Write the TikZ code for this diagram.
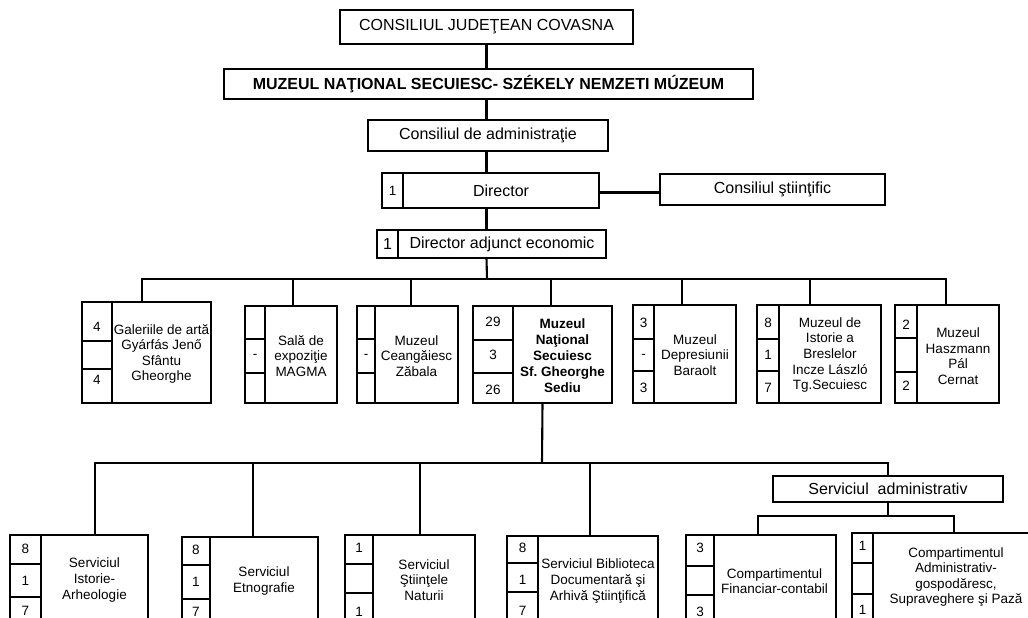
\documentclass[tikz,border=0pt]{standalone}
\usepackage{fontspec}
\setmainfont{Liberation Sans}
\tikzset{
  ln/.style={line width=2.3pt},
  conn/.style={line width=2.1pt},
  boxnode/.style={draw, line width=2.3pt, rectangle, outer sep=0pt, inner sep=0pt},
  big/.style={font=\fontsize{16}{19}\selectfont},
  txt/.style={align=center, inner sep=0pt, font=\fontsize{13.5}{15.6}\selectfont},
  num/.style={inner sep=0pt, font=\fontsize{13.5}{15.6}\selectfont},
}
% box: name, x1, y1, x2, y2
\newcommand{\mkbox}[5]{%
  \node[boxnode, anchor=north west, minimum width={#4pt-#2pt}, minimum height={#5pt-#3pt}] (#1) at (#2,#3) {};}
% text box: name, x1, y1, x2, y2, text
\newcommand{\tbox}[6]{%
  \node[boxnode, big, minimum width={#4pt-#2pt}, minimum height={#5pt-#3pt}] (#1) at ({(#2+#4)/2},{(#3+#5)/2}) {#6};}
% cells: x1, x2, y1, d1, d2, y2
\newcommand{\cells}[6]{%
  \draw[ln] (#2,#3) -- (#2,#6) (#1,#4) -- (#2,#4) (#1,#5) -- (#2,#5);}
\begin{document}
\begin{tikzpicture}[x=1pt,y=-1pt]
\useasboundingbox (0,0) rectangle (1028,618);
\clip (0,0) rectangle (1028,618);
\fill[white] (0,0) rectangle (1028,618);

% ---------- top hierarchy ----------
\tbox{cj}{340}{10}{633}{44}{CONSILIUL JUDEŢEAN COVASNA}
\tbox{mns}{224}{69}{753}{99}{\textbf{MUZEUL NAŢIONAL SECUIESC- SZÉKELY NEMZETI MÚZEUM}}
\tbox{ca}{368}{120}{608}{151}{Consiliul de administraţie}

\mkbox{dir}{382}{173}{599}{208}
\draw[ln] (403,173) -- (403,208);
\node[num] (dirn) at (392.5,190.5) {1};
\node[big, inner sep=0pt] (dirt) at (501,190.5) {Director};

\tbox{cs}{660}{174}{885}{205}{Consiliul ştiinţific}

\mkbox{adj}{377}{230}{606}{258}
\draw[ln] (398,230) -- (398,258);
\node[big, inner sep=0pt] (adjn) at (387.5,244) {1};
\node[big, inner sep=0pt] (adjt) at (502,244) {Director adjunct economic};

\draw[conn] (cj.south) -- (cj.south |- mns.north);
\draw[conn] (cj.south |- mns.south) -- (cj.south |- ca.north);
\draw[conn] (cj.south |- ca.south) -- (cj.south |- dir.north);
\draw[conn] (cj.south |- dir.south) -- (cj.south |- adj.north);
\draw[conn] ([yshift=-2pt]dir.east) -- ([yshift=-2pt]dir.east -| cs.west);

\coordinate (bus) at (487,279);
\draw[conn] (cj.south |- adj.south) -- (bus);

% ---------- museums ----------
\mkbox{gal}{82}{302}{211}{403}
\cells{82}{112}{302}{341}{369}{403}
\node[num] at (97,327) {4};
\node[num] at (97,380) {4};
\node[txt] (galt) at (161.5,354) {Galeriile de artă\\Gyárfás Jenő\\Sfântu\\Gheorghe};

\mkbox{sala}{245}{306}{337}{403}
\cells{245}{265}{306}{339}{373}{403}
\node[num] at (255,356) {-};
\node[txt] (salat) at (301,356) {Sală de\\expoziţie\\MAGMA};

\mkbox{cea}{357}{306}{458}{403}
\cells{357}{375}{306}{339}{373}{403}
\node[num] at (366,356) {-};
\node[txt] (ceat) at (416.5,356) {Muzeul\\Ceangăiesc\\Zăbala};

\mkbox{nat}{473}{306}{612}{403}
\cells{473}{513}{306}{340}{373}{403}
\node[num] at (493,322) {29};
\node[num] at (493,355) {3};
\node[num] at (493,390) {26};
\node[txt, font=\fontsize{13.5}{16}\selectfont\bfseries] (natt) at (562.5,356) {Muzeul\\Naţional\\Secuiesc\\Sf.\ Gheorghe\\Sediu};

\mkbox{dep}{633}{305}{736}{403}
\cells{633}{654}{305}{339}{371}{403}
\node[num] at (643.5,323) {3};
\node[num] at (643.5,356) {-};
\node[num] at (643.5,388) {3};
\node[txt] (dept) at (695,355) {Muzeul\\Depresiunii\\Baraolt};

\mkbox{bre}{757}{305}{881}{403}
\cells{757}{779}{305}{339}{371}{403}
\node[num] at (768,323) {8};
\node[num] at (768,355) {1};
\node[num] at (768,388) {7};
\node[txt] (bret) at (830,355) {Muzeul de\\Istorie a\\Breslelor\\Incze László\\Tg.Secuiesc};

\mkbox{hz}{895}{305}{999}{403}
\cells{895}{917}{305}{338}{372}{403}
\node[num] at (906,325) {2};
\node[num] at (906,386) {2};
\node[txt] (hzt) at (958,356) {Muzeul\\Haszmann\\Pál\\Cernat};

\draw[conn] ([xshift=-4.5pt]gal.north) -- ([xshift=-4.5pt]gal.north |- bus) -- ([xshift=-1pt]hz.north |- bus) -- ([xshift=-1pt]hz.north);
\draw[conn] ([xshift=2pt]sala.north) -- ([xshift=2pt]sala.north |- bus);
\draw[conn] ([xshift=3.5pt]cea.north) -- ([xshift=3.5pt]cea.north |- bus);
\draw[conn] ([xshift=8.5pt]nat.north) -- ([xshift=8.5pt]nat.north |- bus);
\draw[conn] ([xshift=-2.5pt]dep.north) -- ([xshift=-2.5pt]dep.north |- bus);
\draw[conn] ([xshift=-9pt]bre.north) -- ([xshift=-9pt]bre.north |- bus);

% ---------- services ----------
\coordinate (lbus) at (542,463);
\draw[conn] (nat.south) -- (lbus);

\tbox{sa}{773}{476}{1003}{502}{Serviciul\hspace{0.55em}administrativ}

\mkbox{ist}{10}{535}{148}{640}
\cells{10}{41}{535}{564}{597}{640}
\node[num] at (25.5,549) {8};
\node[num] at (25.5,581) {1};
\node[num] at (25.5,611) {7};
\node[txt] (istt) at (94.5,580) {Serviciul\\Istorie-\\Arheologie};

\mkbox{etn}{182}{537}{318}{640}
\cells{182}{210}{537}{565}{599}{640}
\node[num] at (196,550) {8};
\node[num] at (196,582) {1};
\node[num] at (196,612) {7};
\node[txt] (etnt) at (264,581) {Serviciul\\Etnografie};

\mkbox{nau}{345}{535}{475}{640}
\cells{345}{373}{535}{564}{593}{640}
\node[num] at (359,548) {1};
\node[num] at (359,612) {1};
\node[txt] (naut) at (424,580) {Serviciul\\Ştiinţele\\Naturii};

\mkbox{bib}{507}{536}{658}{640}
\cells{507}{538}{536}{563}{592}{640}
\node[num] at (522.5,548) {8};
\node[num] at (522.5,580) {1};
\node[num] at (522.5,611) {7};
\node[txt] (bibt) at (598,581) {Serviciul Biblioteca\\Documentară şi\\Arhivă Ştiinţifică};

\mkbox{fin}{686}{535}{836}{640}
\cells{686}{714}{535}{566}{595}{640}
\node[num] at (700,548) {3};
\node[num] at (700,612) {3};
\node[txt] (fint) at (774.5,581) {Compartimentul\\Financiar-contabil};

\mkbox{paz}{852}{533}{1040}{640}
\cells{852}{873}{533}{563}{594}{640}
\node[num] at (862.5,546) {1};
\node[num] at (862.5,610) {1};
\node[txt] (pazt) at (956,577) {Compartimentul\\Administrativ-\\gospodăresc,\\Supraveghere şi Pază};

\draw[conn] ([xshift=16pt]ist.north) -- ([xshift=16pt]ist.north |- lbus) -- (sa.north |- lbus) -- (sa.north);
\draw[conn] ([xshift=3pt]etn.north) -- ([xshift=3pt]etn.north |- lbus);
\draw[conn] ([xshift=10pt]nau.north) -- ([xshift=10pt]nau.north |- lbus);
\draw[conn] ([xshift=7.5pt]bib.north) -- ([xshift=7.5pt]bib.north |- lbus);

\coordinate (fork) at (888,516);
\draw[conn] (sa.south) -- (fork);
\draw[conn] ([xshift=-3pt]fin.north) -- ([xshift=-3pt]fin.north |- fork) -- ([xshift=8pt]paz.north |- fork) -- ([xshift=8pt]paz.north);
\end{tikzpicture}
\end{document}
